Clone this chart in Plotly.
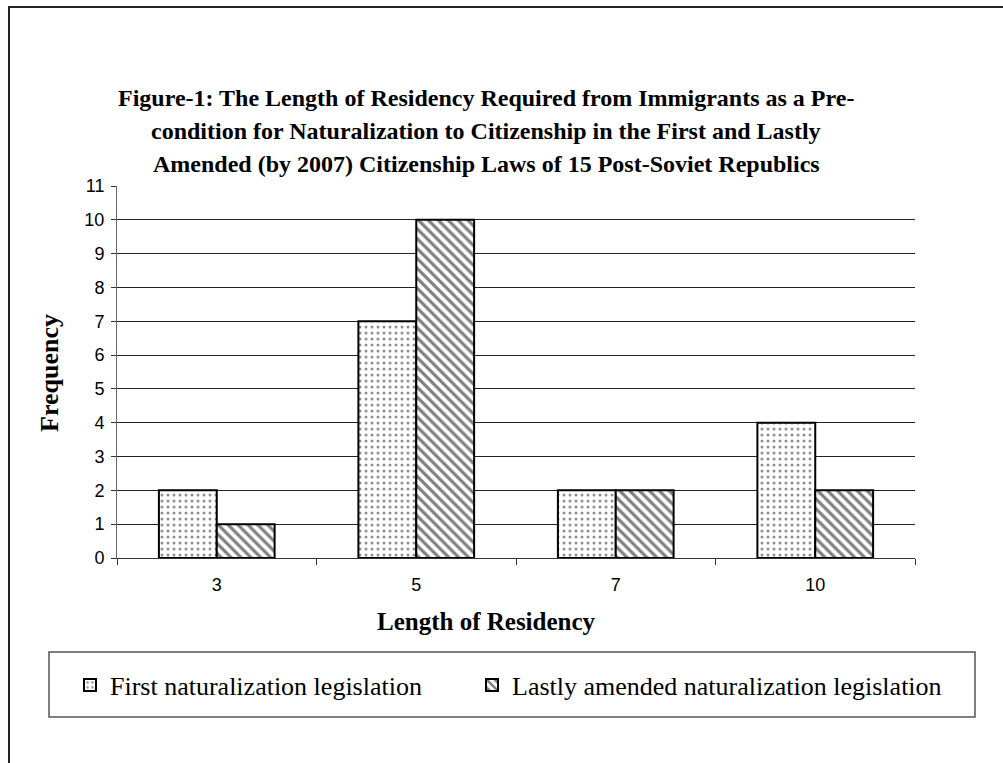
import plotly.graph_objects as go

# Residency length categories (years) and frequency counts per legislation type
residency_years = ["3", "5", "7", "10"]
first_legislation = [2, 7, 2, 4]
lastly_amended = [1, 10, 2, 2]
series_names = ["First naturalization legislation", "Lastly amended naturalization legislation"]
y_ticks = list(range(0, 12))

title_lines = [
    "Figure-1: The Length of Residency Required from Immigrants as a Pre-",
    "condition for Naturalization to Citizenship in the First and Lastly",
    "Amended (by 2007) Citizenship Laws of 15 Post-Soviet Republics",
]

W, H = 1003, 763
L, R, T, B = 117, 88, 186, 205
PW, PH = W - L - R, H - T - B


def px_x(x):
    return (x - L) / PW


def px_y(y):
    return (H - B - y) / PH


SERIF = "Liberation Serif, Times New Roman, serif"
SANS = "Liberation Sans, Arial, sans-serif"

fig = go.Figure()
fig.add_trace(go.Bar(
    x=residency_years, y=first_legislation, name=series_names[0], legend="legend",
    marker=dict(color="white", line=dict(color="black", width=2),
                pattern=dict(shape=".", fgcolor="#222", bgcolor="white",
                             size=6, solidity=0.2)),
))
fig.add_trace(go.Bar(
    x=residency_years, y=lastly_amended, name=series_names[1], legend="legend2",
    marker=dict(color="white", line=dict(color="black", width=2),
                pattern=dict(shape="\\", fgcolor="black", bgcolor="white",
                             size=7, solidity=0.45)),
))
# Carrier for the horizontal gridlines axis (draws nothing itself)
fig.add_trace(go.Scatter(x=residency_years, y=[None] * len(residency_years), yaxis="y2",
                         mode="lines", showlegend=False, hoverinfo="skip"))

legend_style = dict(orientation="h", yanchor="middle", xanchor="left",
                    font=dict(family=SERIF, size=26, color="black"),
                    bgcolor="rgba(0,0,0,0)", borderwidth=0)

fig.update_layout(
    width=W, height=H,
    margin=dict(l=L, r=R, t=T, b=B),
    paper_bgcolor="white", plot_bgcolor="white",
    barmode="group", bargap=0.42, bargroupgap=0,
    showlegend=True,
    legend=dict(x=px_x(70), y=px_y(685), **legend_style),
    legend2=dict(x=px_x(472), y=px_y(685), **legend_style),
    xaxis=dict(type="category", showgrid=False, showline=True, linecolor="#333", linewidth=1,
               ticks="outside", tickson="boundaries", ticklen=6, tickcolor="#333",
               tickfont=dict(family=SANS, size=18, color="black"),
               ticklabelstandoff=10),
    yaxis=dict(range=[0, 11], tickvals=y_ticks, showgrid=False, zeroline=False,
               showline=True, linecolor="#666", linewidth=1,
               ticks="outside", ticklen=5, tickcolor="#333",
               tickfont=dict(family=SANS, size=18, color="black"),
               ticklabelstandoff=3),
    yaxis2=dict(overlaying="y", range=[0, 11], tickvals=y_ticks[1:-1], showgrid=True,
                gridcolor="#222", gridwidth=1, showticklabels=False, ticks="",
                showline=False, zeroline=False),
)

# Chart-area frame and legend frame
fig.add_shape(type="rect", xref="paper", yref="paper",
              x0=px_x(9), x1=px_x(1012), y0=px_y(770), y1=px_y(7),
              line=dict(color="#222", width=2), layer="below")
fig.add_shape(type="rect", xref="paper", yref="paper",
              x0=px_x(49), x1=px_x(975), y0=px_y(717), y1=px_y(652),
              line=dict(color="#555", width=1.5), layer="below")

# Title lines
for i, line in enumerate(title_lines):
    fig.add_annotation(text=f"<b>{line}</b>", xref="paper", yref="paper",
                       x=px_x(486), y=px_y(98 + 33 * i), showarrow=False,
                       xanchor="center", yanchor="middle",
                       font=dict(family=SERIF, size=24, color="black"))

# Axis titles
fig.add_annotation(text="<b>Length of Residency</b>", xref="paper", yref="paper",
                   x=px_x(486), y=px_y(621), showarrow=False,
                   xanchor="center", yanchor="middle",
                   font=dict(family=SERIF, size=25, color="black"))
fig.add_annotation(text="<b>Frequency</b>", xref="paper", yref="paper",
                   x=px_x(49), y=px_y(373), showarrow=False, textangle=-90,
                   xanchor="center", yanchor="middle",
                   font=dict(family=SERIF, size=26, color="black"))

fig.write_html("out.html")
